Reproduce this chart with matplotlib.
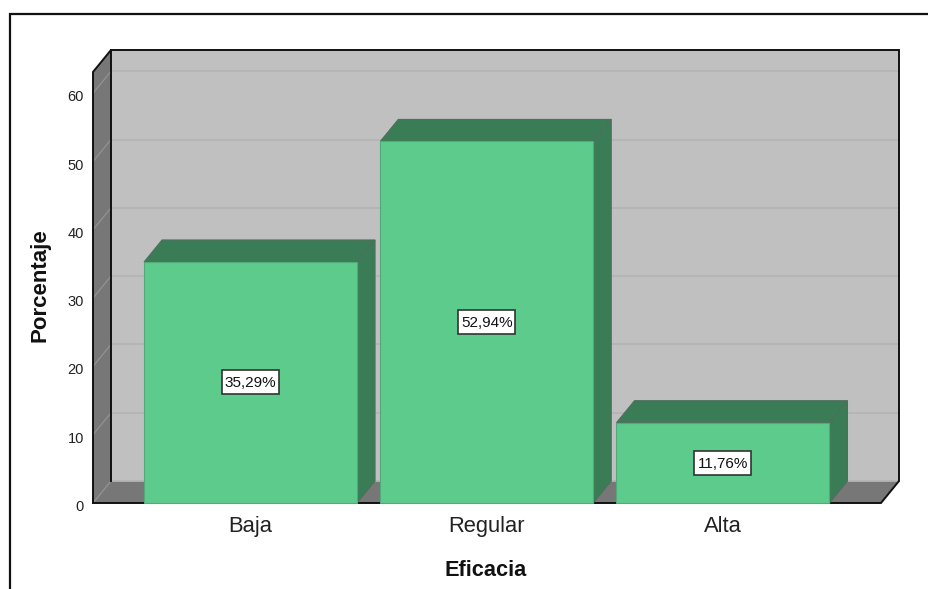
import matplotlib
matplotlib.use("Agg")
import matplotlib.pyplot as plt
from matplotlib.patches import Polygon, Rectangle
from matplotlib.lines import Line2D
from matplotlib.transforms import ScaledTranslation

plt.rcParams['font.family'] = ['Liberation Sans', 'DejaVu Sans']

categories = ["Baja", "Regular", "Alta"]
values = [35.29, 52.94, 11.76]
value_labels = ["35,29%", "52,94%", "11,76%"]
y_ticks = [0, 10, 20, 30, 40, 50, 60]
x_title = "Eficacia"
y_title = "Porcentaje"

W, H = 929, 589
fig = plt.figure(figsize=(W / 100, H / 100), dpi=100, facecolor="white")
L, R, B, T = 93, 881, 503, 72
ax = fig.add_axes([L / W, 1 - B / H, (R - L) / W, (B - T) / H])
ax.set_xlim(-0.667, 2.669)
ax.set_ylim(0, (B - T) / 6.83)
ax.patch.set_visible(False)
for s in ax.spines.values():
    s.set_visible(False)

x0, x1 = ax.get_xlim()
y0, y1 = ax.get_ylim()
dx = 18 / 236.25
dy = 22 / 6.83
bw = 213 / 236.25
box_w = 57 / 236.25
box_h = 24 / 6.83

WALL = "#c0c0c0"
SIDE = "#777777"
FRONT = "#5ccb8b"
DARK = "#3a7c55"
INK = "#111111"

def poly(pts, fc, ec="none", lw=0.0, z=1):
    ax.add_patch(Polygon(pts, closed=True, facecolor=fc, edgecolor=ec, linewidth=lw,
                         clip_on=False, zorder=z))

# walls and floor
poly([(x0 + dx, y0 + dy), (x1 + dx, y0 + dy), (x1 + dx, y1 + dy), (x0 + dx, y1 + dy)], WALL, z=1)
poly([(x0, y0), (x0 + dx, y0 + dy), (x0 + dx, y1 + dy), (x0, y1)], SIDE, z=1.1)
poly([(x0, y0), (x1, y0), (x1 + dx, y0 + dy), (x0 + dx, y0 + dy)], SIDE, z=1.1)

# grid
for t in y_ticks:
    ax.plot([x0 + dx, x1 + dx], [t + dy, t + dy], color="#b4b4b4", lw=1.3, clip_on=False, zorder=1.2)
    ax.plot([x0, x0 + dx], [t, t + dy], color="#929292", lw=0.9, clip_on=False, zorder=1.2)

# outline of the chart box
ax.plot([x0, x0, x0 + dx, x1 + dx, x1 + dx, x1, x0],
        [y0, y1, y1 + dy, y1 + dy, y0 + dy, y0, y0],
        color=INK, lw=1.4, clip_on=False, zorder=1.5, solid_joinstyle="miter")
ax.plot([x0 + dx, x0 + dx], [y0 + dy, y1 + dy], color=INK, lw=1.4, clip_on=False, zorder=1.5)

# bars
for i, v in enumerate(values):
    l, r = i - bw / 2, i + bw / 2
    poly([(l, v), (r, v), (r + dx, v + dy), (l + dx, v + dy)], DARK, "#4f6f5c", 0.8, z=2)
    poly([(r, 0), (r + dx, dy), (r + dx, v + dy), (r, v)], DARK, "#4f6f5c", 0.8, z=2)
    ax.add_patch(Rectangle((l, 0), bw, v, facecolor=FRONT, edgecolor="#55a87a", linewidth=0.8,
                           clip_on=False, zorder=3))
    ax.add_patch(Rectangle((i - box_w / 2, v / 2 - box_h / 2), box_w, box_h, facecolor="white",
                           edgecolor="#333333", linewidth=1.2, clip_on=False, zorder=4))
    ax.annotate(value_labels[i], xy=(i, v / 2), xytext=(0, -0.5), textcoords="offset points",
                ha="center", va="center", fontsize=11, color="#111111", zorder=5)

# ticks
ax.set_xticks(range(len(categories)))
ax.set_xticklabels(categories, fontsize=15.8, color="#222222")
ax.set_yticks(y_ticks)
ax.set_yticklabels([str(t) for t in y_ticks], fontsize=10.5, color="#222222")
ax.tick_params(axis="both", length=0)
ax.tick_params(axis="x", pad=9.5)
ax.tick_params(axis="y", pad=6.5)
shift = ScaledTranslation(0, -2.5 / 100, fig.dpi_scale_trans)
for lab in ax.get_yticklabels():
    lab.set_transform(lab.get_transform() + shift)

fig.text(486 / W, 1 - 571 / H, x_title, ha="center", va="center", fontsize=15.7, fontweight="bold", color="#111111")
fig.text(40 / W, 1 - 285 / H, y_title, ha="center", va="center", rotation=90, fontsize=16, fontweight="bold", color="#111111")

# outer frame of the picture: left and top edges only
fig.add_artist(Line2D([10.5 / W, 10.5 / W, 1],
                      [0, 1 - 13.5 / H, 1 - 13.5 / H],
                      transform=fig.transFigure, color="#111111", lw=1.6,
                      solid_joinstyle="miter"))

fig.savefig("out.png", dpi=100, facecolor="white")
